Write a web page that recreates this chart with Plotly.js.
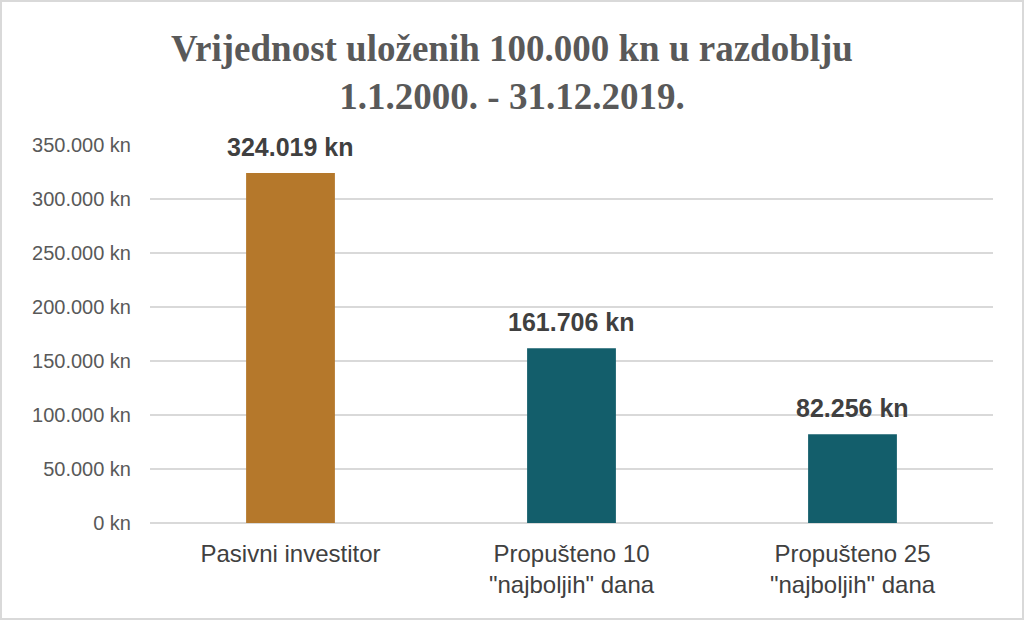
<!DOCTYPE html>
<html>
<head>
<meta charset="utf-8">
<script src="https://cdn.plot.ly/plotly-3.0.1.min.js"></script>
<style>
  body { margin: 0; background: #fff; }
  #chart { width: 1020px; height: 616px; border: 2px solid #d9d9d9; }
</style>
</head>
<body>
<div id="chart"></div>
<script>
var categories = ['Pasivni investitor',
  'Propušteno 10<br>"najboljih" dana',
  'Propušteno 25<br>"najboljih" dana'];
var values = [324019, 161706, 82256];
var barColors = ['#b5782b', '#135e6b', '#135e6b'];
var tickValues = [0, 50000, 100000, 150000, 200000, 250000, 300000, 350000];

function kn(v) {
  return v.toLocaleString('de-DE') + ' kn';
}

var trace = {
  x: categories,
  y: values,
  type: 'bar',
  marker: { color: barColors },
  hoverinfo: 'none'
};

var labels = categories.map(function (c, i) {
  return {
    x: c,
    y: values[i],
    xref: 'x',
    yref: 'y',
    text: '<b>' + kn(values[i]) + '</b>',
    showarrow: false,
    yanchor: 'bottom',
    yshift: 10,
    font: { family: 'Liberation Sans, Arial, sans-serif', size: 25, color: '#404040' }
  };
});

var layout = {
  width: 1020,
  height: 616,
  margin: { l: 148, r: 29, t: 143, b: 95 },
  paper_bgcolor: '#ffffff',
  plot_bgcolor: '#ffffff',
  showlegend: false,
  bargap: 0.684,
  title: {
    text: 'Vrijednost uloženih 100.000 kn u razdoblju<br>1.1.2000. - 31.12.2019.',
    font: { family: 'Liberation Serif, DejaVu Serif, serif', size: 37, color: '#595959', weight: 'bold' },
    x: 0.5,
    xanchor: 'center',
    yref: 'container',
    y: 0.905,
    yanchor: 'middle'
  },
  xaxis: {
    tickfont: { family: 'Liberation Sans, Arial, sans-serif', size: 24, color: '#404040' },
    showline: false,
    ticks: '',
    ticklabelstandoff: 14,
    fixedrange: true
  },
  yaxis: {
    range: [0, 350000],
    tickvals: tickValues,
    ticktext: tickValues.map(kn),
    tickfont: { family: 'Liberation Sans, Arial, sans-serif', size: 20, color: '#595959' },
    gridcolor: '#d9d9d9',
    gridwidth: 1.5,
    zeroline: true,
    zerolinecolor: '#d9d9d9',
    zerolinewidth: 1.5,
    ticks: '',
    ticklabelstandoff: 18,
    fixedrange: true
  },
  annotations: labels
};

Plotly.newPlot('chart', [trace], layout, { displayModeBar: false, staticPlot: true });
</script>
</body>
</html>
